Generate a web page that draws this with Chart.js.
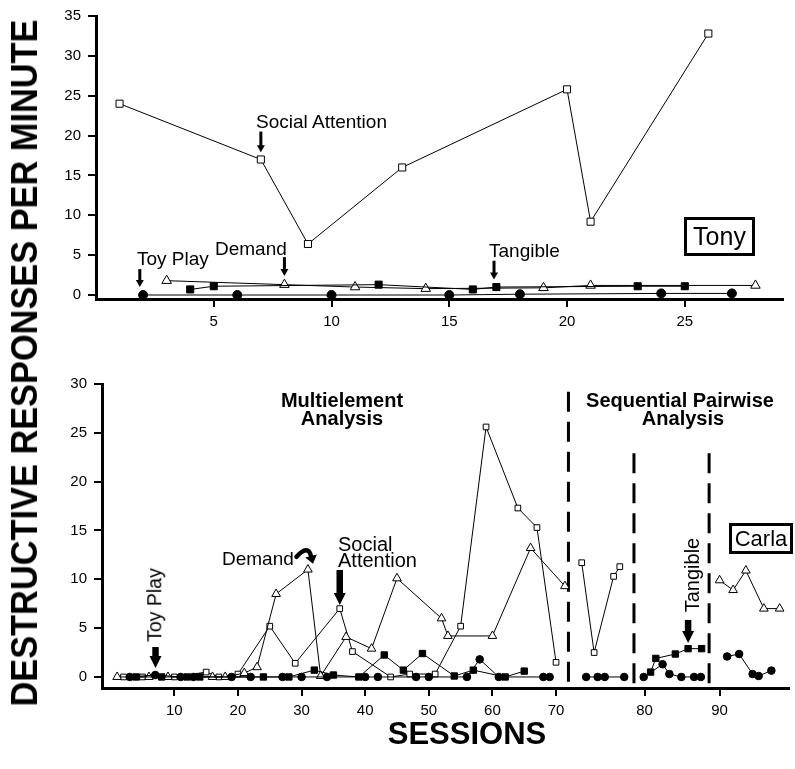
<!DOCTYPE html>
<html>
<head>
<meta charset="utf-8">
<script src="https://cdn.jsdelivr.net/npm/chart.js@4.4.1/dist/chart.umd.min.js"></script>
<style>
  body { margin: 0; background: #fff; }
  #wrap { position: relative; width: 795px; height: 769px; overflow: hidden;
          font-family: "Liberation Sans", Arial, sans-serif; color: #000; }
  canvas { position: absolute; left: 0; }
  .t { position: absolute; white-space: nowrap; line-height: 1; }
  .box { position: absolute; border: 3px solid #000; box-sizing: border-box;
         display: flex; align-items: center; justify-content: center; line-height: 1; }
</style>
</head>
<body>
<div id="wrap">
  <canvas id="tony" width="795" height="340" style="top:0px"></canvas>
  <canvas id="carla" width="795" height="372" style="top:360px"></canvas>
</div>
<script>
// Tony - datos
const tonyToySessions = [2, 6, 10, 15, 18, 24, 27];
const tonyToy = [0, 0, 0, 0, 0.1, 0.2, 0.2];
const tonyDemandSessions = [3, 8, 11, 14, 19, 21, 28];
const tonyDemand = [1.8, 1.3, 1.0, 0.8, 0.9, 1.2, 1.2];
const tonyAttnSessions = [1, 7, 9, 13, 20, 21, 26];
const tonyAttn = [24, 17, 6.4, 16, 25.8, 9.2, 32.8];
const tonyTangSessions = [4, 5, 12, 16, 17, 23, 25];
const tonyTang = [0.7, 1.1, 1.3, 0.7, 1.0, 1.1, 1.1];
const tonyXTicks = [5, 10, 15, 20, 25];
const tonyYTicks = [0, 5, 10, 15, 20, 25, 30, 35];

// Carla
const carlaToySessions = [3, 7, 11, 13, 19, 22, 27, 30, 34, 40, 42, 48, 50, 56, 58, 61, 68, 69,
  73.4, 74.7, 75.5, 77.7, 79.9, 82.4, 83.3, 84.9, 86.6, 87.5, 91.0, 92.6, 94.4, 95.2, 96.9];
const carlaToy = [0, 0.2, 0, 0, 0, 0, 0, 0, 0, 0, 0, 0, 0, 0, 1.8, 0, 0, 0,
  0, 0, 0, 0, 0, 1.3, 0.3, 0, 0, 0, 2.1, 2.35, 0.3, 0.1, 0.65];
const carlaDemandSessions = [1, 6, 9, 16, 18, 21, 23, 26, 31, 33, 37, 41, 45, 52, 53, 60, 66, 71,
  90.0, 91.8, 93.5, 95.9, 98.0];
const carlaDemand = [0, 0, 0, 0, 0, 0.4, 1.0, 8.5, 11.0, 0.1, 4.1, 2.9, 10.1, 6.0, 4.2, 4.2, 13.2, 9.3,
  9.9, 8.9, 10.9, 7.0, 7.0];
const carlaAttnSessions = [2, 5, 10, 15, 17, 20, 25, 29, 36, 38, 44, 47, 51, 55, 59, 64, 67, 70,
  72.9, 74.3, 76.5, 77.2];
const carlaAttn = [0, 0, 0, 0.5, 0, 0.3, 5.2, 1.4, 7.0, 2.6, 0, 0.3, 0.3, 5.2, 25.6, 17.3, 15.3, 1.5,
  11.7, 2.5, 10.3, 11.3];
const carlaTangSessions = [4, 8, 12, 14, 24, 28, 32, 35, 39, 43, 46, 49, 54, 57, 62, 65,
  80.8, 81.5, 84.1, 85.8, 87.6];
const carlaTang = [0, 0, 0, 0, 0, 0, 0.7, 0.2, 0, 2.25, 0.7, 2.4, 0.1, 0.7, 0, 0.6,
  0.5, 1.9, 2.35, 2.9, 2.9];
const carlaXTicks = [10, 20, 30, 40, 50, 60, 70, 80, 90];
const carlaYTicks = [0, 5, 10, 15, 20, 25, 30];
// lineas de cambio de fase
const phaseLines = [71.4, 78.8, 88.6];
const phaseTops = [29.2, 22.9, 22.9];

// eje x de Carla: no es lineal en la figura original (tramos estirados)
class BrokenLinear extends Chart.LinearScale {
  getPixelForValue(v) {
    if (v === null || v === undefined || isNaN(v)) return NaN;
    const k = this.options.knots;
    let i = 1;
    while (i < k.length - 1 && v > k[i][0]) i++;
    const f = k[i - 1][1] + (v - k[i - 1][0]) / (k[i][0] - k[i - 1][0]) * (k[i][1] - k[i - 1][1]);
    return this.getPixelForDecimal(f);
  }
  getValueForPixel(p) {
    const k = this.options.knots;
    const f = this.getDecimalForPixel(p);
    let i = 1;
    while (i < k.length - 1 && f > k[i][1]) i++;
    return k[i - 1][0] + (f - k[i - 1][1]) / (k[i][1] - k[i - 1][1]) * (k[i][0] - k[i - 1][0]);
  }
}
BrokenLinear.id = 'brokenLinear';
BrokenLinear.defaults = Chart.LinearScale.defaults;
Chart.register(BrokenLinear);

// flechas de las etiquetas
const arrowPlugin = {
  id: 'arrows',
  afterDatasetsDraw(chart, args, opts) {
    const { ctx } = chart;
    const xs = chart.scales.x, ys = chart.scales.y;
    ctx.save();
    ctx.fillStyle = '#000';
    ctx.strokeStyle = '#000';
    (opts.straight || []).forEach(a => {
      const px = xs.getPixelForValue(a.x);
      const y0 = ys.getPixelForValue(a.from), y1 = ys.getPixelForValue(a.to);
      ctx.fillRect(px - opts.shaft / 2, y0, opts.shaft, y1 - opts.head - y0 + 1);
      ctx.beginPath();
      ctx.moveTo(px - opts.headW / 2, y1 - opts.head);
      ctx.lineTo(px + opts.headW / 2, y1 - opts.head);
      ctx.lineTo(px, y1);
      ctx.closePath();
      ctx.fill();
    });
    (opts.curved || []).forEach(a => {
      const sx = xs.getPixelForValue(a.from[0]), sy = ys.getPixelForValue(a.from[1]);
      const cx = xs.getPixelForValue(a.ctrl[0]), cy = ys.getPixelForValue(a.ctrl[1]);
      const tx = xs.getPixelForValue(a.to[0]), ty = ys.getPixelForValue(a.to[1]);
      const ang = Math.atan2(ty - cy, tx - cx);
      const bx = tx - Math.cos(ang) * 8, by = ty - Math.sin(ang) * 8;
      ctx.lineWidth = 4.5;
      ctx.lineCap = 'round';
      ctx.beginPath();
      ctx.moveTo(sx, sy);
      ctx.quadraticCurveTo(cx, cy, bx, by);
      ctx.stroke();
      ctx.beginPath();
      ctx.moveTo(tx, ty);
      ctx.lineTo(bx + Math.cos(ang + Math.PI / 2) * 6, by + Math.sin(ang + Math.PI / 2) * 6);
      ctx.lineTo(bx - Math.cos(ang + Math.PI / 2) * 6, by - Math.sin(ang + Math.PI / 2) * 6);
      ctx.closePath();
      ctx.fill();
    });
    ctx.restore();
  }
};

function toPoints(xs, ys) {
  const pts = [];
  xs.forEach((x, i) => {
    if (i > 0 && phaseLines.some(b => xs[i - 1] < b && x > b)) pts.push({ x: (xs[i - 1] + x) / 2, y: null });
    pts.push({ x: x, y: ys[i] });
  });
  return pts;
}

function serie(xs, ys, style, fill, r) {
  return {
    data: toPoints(xs, ys),
    borderColor: '#000',
    borderWidth: 1,
    pointStyle: style,
    pointRadius: r,
    pointBackgroundColor: fill,
    pointBorderColor: '#000',
    pointBorderWidth: 1,
    tension: 0,
    clip: false
  };
}

function ejes(xOpts, yOpts, yWidth, xHeight, xTicks, yTicks) {
  const common = {
    border: { display: true, color: '#000', width: 3 },
    grid: { drawOnChartArea: false, drawTicks: true, tickLength: 8, color: '#000', lineWidth: 2 },
    ticks: { color: '#000', font: { family: 'Liberation Sans', size: 15 }, padding: 6 }
  };
  return {
    x: Object.assign({}, common, xOpts, {
      afterFit: s => { s.height = xHeight; },
      afterBuildTicks: s => { s.ticks = xTicks.map(v => ({ value: v })); }
    }),
    y: Object.assign({}, common, yOpts, {
      ticks: Object.assign({}, common.ticks, { padding: 7 }),
      afterFit: s => { s.width = yWidth; },
      afterBuildTicks: s => { s.ticks = yTicks.map(v => ({ value: v })); }
    })
  };
}

const baseOpts = {
  responsive: false,
  animation: false,
  devicePixelRatio: 1,
  events: []
};

new Chart(document.getElementById('tony'), {
  type: 'line',
  data: {
    datasets: [
      serie(tonyToySessions, tonyToy, 'circle', '#000', 4.5),
      serie(tonyTangSessions, tonyTang, 'rect', '#000', 5),
      serie(tonyDemandSessions, tonyDemand, 'triangle', '#fff', 5.5),
      serie(tonyAttnSessions, tonyAttn, 'rect', '#fff', 5)
    ]
  },
  options: Object.assign({}, baseOpts, {
    layout: { padding: { top: 15, right: 12, left: 0, bottom: 0 } },
    plugins: {
      legend: { display: false }, tooltip: { enabled: false },
      arrows: {
        shaft: 3, head: 7, headW: 8,
        straight: [
          { x: 1.86, from: 3.25, to: 1.0 },
          { x: 8, from: 4.75, to: 2.4 },
          { x: 7, from: 20.5, to: 17.9 },
          { x: 16.9, from: 4.3, to: 1.95 }
        ]
      }
    },
    scales: ejes({ type: 'linear', min: 0, max: 29.17 }, { type: 'linear', min: -0.5, max: 35 },
      96, 41, tonyXTicks, tonyYTicks)
  }),
  plugins: [arrowPlugin]
});

const faseSets = phaseLines.map((x, i) => ({
  data: [{ x: x, y: phaseTops[i] }, { x: x, y: -1.13 }],
  borderColor: '#000',
  borderWidth: 3,
  borderDash: [20, 10],
  pointRadius: 0,
  clip: false
}));

new Chart(document.getElementById('carla'), {
  type: 'line',
  data: {
    datasets: [
      serie(carlaToySessions, carlaToy, 'circle', '#000', 3.8),
      serie(carlaTangSessions, carlaTang, 'rect', '#000', 4.5),
      serie(carlaDemandSessions, carlaDemand, 'triangle', '#fff', 5),
      serie(carlaAttnSessions, carlaAttn, 'rect', '#fff', 4)
    ].concat(faseSets)
  },
  options: Object.assign({}, baseOpts, {
    layout: { padding: { top: 24, right: 0, left: 0, bottom: 0 } },
    plugins: {
      legend: { display: false }, tooltip: { enabled: false },
      arrows: {
        shaft: 6.5, head: 12, headW: 12,
        straight: [
          { x: 7.04, from: 3.07, to: 0.92 },
          { x: 36, from: 10.95, to: 7.37 },
          { x: 85.8, from: 5.84, to: 3.48 }
        ],
        curved: [{ from: [29.2, 12.3], ctrl: [31.0, 13.6], to: [31.8, 11.6] }]
      }
    },
    scales: ejes({
      type: 'brokenLinear', min: -1.38, max: 99.25,
      knots: [[-1.38, 0], [10, 0.1053], [70, 0.6609], [80, 0.7898], [90, 0.899], [99.25, 1]]
    }, { type: 'linear', min: -1.13, max: 30 }, 102, 44, carlaXTicks, carlaYTicks)
  }),
  plugins: [arrowPlugin]
});

// textos
const wrap = document.getElementById('wrap');
function texto(str, x, base, size, bold, center) {
  const d = document.createElement('div');
  d.className = 't';
  d.textContent = str;
  d.style.fontSize = size + 'px';
  if (bold) d.style.fontWeight = 'bold';
  d.style.left = x + 'px';
  d.style.top = (base - 0.8465 * size) + 'px';
  if (center) d.style.transform = 'translateX(-50%)';
  wrap.appendChild(d);
}
function vertical(str, cx, cy, size, bold, sx) {
  const d = document.createElement('div');
  d.className = 't';
  d.textContent = str;
  d.style.fontSize = size + 'px';
  if (bold) d.style.fontWeight = 'bold';
  d.style.left = cx + 'px';
  d.style.top = cy + 'px';
  d.style.transform = 'translate(-50%, -50%) rotate(-90deg) scaleX(' + (sx || 1) + ')';
  wrap.appendChild(d);
}
function caja(str, x, y, w, h, size) {
  const d = document.createElement('div');
  d.className = 'box';
  d.textContent = str;
  Object.assign(d.style, { left: x + 'px', top: y + 'px', width: w + 'px', height: h + 'px', fontSize: size + 'px' });
  wrap.appendChild(d);
}

texto('Social Attention', 256, 128, 19);
texto('Toy Play', 137, 265, 19);
texto('Demand', 215, 255, 19);
texto('Tangible', 489, 257, 19);
caja('Tony', 684, 217, 71, 39, 25);

texto('Multielement', 342, 407, 20, true, true);
texto('Analysis', 342, 425, 20, true, true);
texto('Sequential Pairwise', 680, 407, 20, true, true);
texto('Analysis', 683, 425, 20, true, true);
texto('Demand', 222, 565, 19);
texto('Social', 338, 551, 20);
texto('Attention', 338, 567, 20);
vertical('Toy Play', 154.5, 604.5, 19.5);
vertical('Tangible', 691.5, 575, 20);
caja('Carla', 729, 523, 64, 31, 22);

vertical('DESTRUCTIVE RESPONSES PER MINUTE', 25, 363, 36, true, 0.954);
texto('SESSIONS', 467, 744, 31, true, true);
</script>
</body>
</html>
